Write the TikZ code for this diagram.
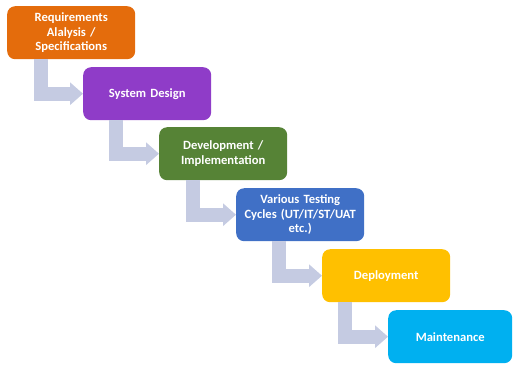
\documentclass[tikz,border=0pt]{standalone}
\usepackage{fontspec}
\setmainfont{Carlito}
\usetikzlibrary{arrows.meta,calc}
\definecolor{reqorange}{RGB}{228,108,12}
\definecolor{designpurple}{RGB}{143,60,200}
\definecolor{devgreen}{RGB}{86,131,54}
\definecolor{testblue}{RGB}{64,112,198}
\definecolor{deployyellow}{RGB}{255,192,0}
\definecolor{maintcyan}{RGB}{0,176,240}
\definecolor{flowgray}{RGB}{197,203,226}
\begin{document}
\begin{tikzpicture}[x=1pt,y=-1pt,
  stage/.style={anchor=north west, rounded corners=8pt, text=white,
    font=\bfseries\fontsize{12.6pt}{14.5pt}\selectfont, align=center,
    text width=122pt, inner xsep=3pt, inner ysep=2pt, minimum height=53pt},
  flow/.style={draw=flowgray, line width=14pt, line join=miter,
    -{Triangle[width=22pt,length=13pt]}}]
\useasboundingbox (0,0) rectangle (513,368);

% the six stages, stepping down to the right
\node[stage, fill=reqorange]    (req)    at (7,6)    {Requirements\\Alalysis /\\Specifications};
\node[stage, fill=designpurple] (design) at (83,67)  {System Design};
\node[stage, fill=devgreen]     (dev)    at (159,127) {Development /\\Implementation};
\node[stage, fill=testblue]     (test)   at (236,188) {Various Testing\\Cycles (UT/IT/ST/UAT\\etc.)};
\node[stage, fill=deployyellow] (deploy) at (322,249) {Deployment};
\node[stage, fill=maintcyan, text width=118pt] (maint) at (388,310) {Maintenance};

% L-shaped arrows between consecutive stages
\draw[flow] ([xshift=34pt]req.south west)    |- (design.west);
\draw[flow] ([xshift=32.5pt]design.south west) |- (dev.west);
\draw[flow] ([xshift=34pt]dev.south west)    |- (test.west);
\draw[flow] ([xshift=42.5pt]test.south west) |- (deploy.west);
\draw[flow] ([xshift=23pt]deploy.south west) |- (maint.west);
\end{tikzpicture}
\end{document}
